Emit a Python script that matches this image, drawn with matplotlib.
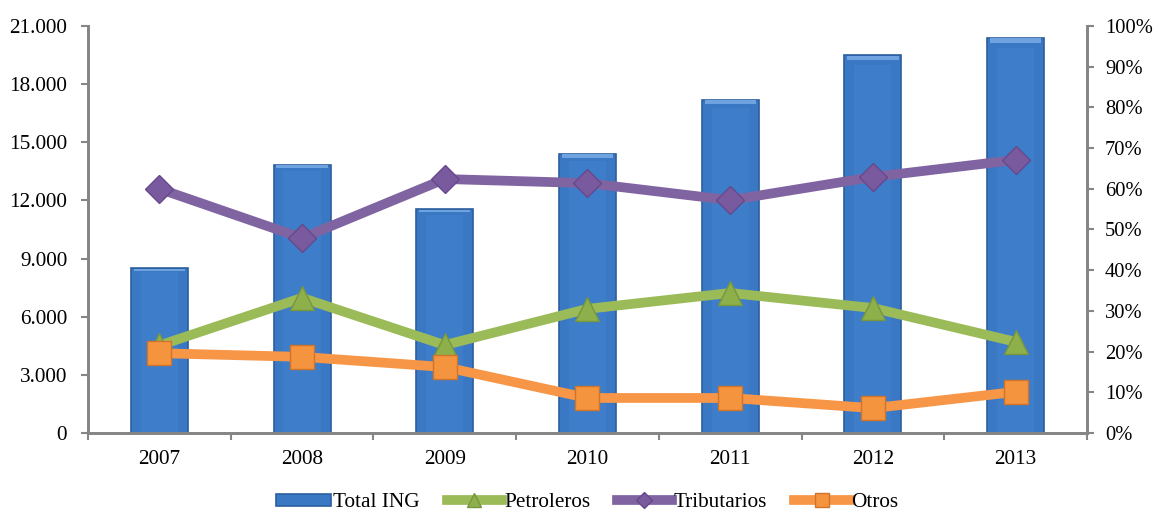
import matplotlib
matplotlib.use('Agg')
import matplotlib.pyplot as plt
import numpy as np
from matplotlib.ticker import FuncFormatter, MultipleLocator

# datos
anios = ['2007', '2008', '2009', '2010', '2011', '2012', '2013']
total_ing = [8500, 13850, 11550, 14400, 17200, 19500, 20400]
petroleros = [21.5, 33.2, 21.6, 30.5, 34.4, 30.7, 22.4]
tributarios = [60.0, 47.9, 62.4, 61.4, 57.2, 62.9, 67.1]
otros = [19.6, 18.7, 16.2, 8.6, 8.6, 6.1, 10.1]

plt.rcParams['font.family'] = ['Liberation Serif', 'DejaVu Serif']
gris = '#868686'
fs = 15.3

fig = plt.figure(figsize=(11.56, 5.13), dpi=100)
ax = fig.add_axes([0.0761, 0.156, 0.8642, 0.7933])
ax2 = ax.twinx()

x = np.arange(len(anios))
ax.bar(x, total_ing, width=0.4, color='#3A78C4', edgecolor='#2B5E9E',
       linewidth=1.2, label='Total ING', zorder=2)
# brillo central y bisel superior de las barras
ax.bar(x, [v * 0.975 for v in total_ing], width=0.26, color='#3D7DCA',
       linewidth=0, zorder=2.5)
ax.bar(x, [v * 0.012 for v in total_ing], bottom=[v * 0.986 for v in total_ing],
       width=0.36, color='#6FA3E0', linewidth=0, zorder=3)

ax2.plot(x, petroleros, color='#9BBB59', lw=7, marker='^', ms=17,
         mfc='#8DB04B', mec='#77963D', label='Petroleros', zorder=4)
ax2.plot(x, tributarios, color='#8064A2', lw=7, marker='D', ms=14,
         mfc='#7A5A9E', mec='#65498A', label='Tributarios', zorder=5)
ax2.plot(x, otros, color='#F79646', lw=7, marker='s', ms=17,
         mfc='#F5943E', mec='#D0742A', label='Otros', zorder=6)

ax.set_xlim(-0.5, 6.5)
ax.set_ylim(0, 21000)
ax2.set_ylim(0, 100)
ax.yaxis.set_major_locator(MultipleLocator(3000))
ax.yaxis.set_major_formatter(FuncFormatter(lambda v, p: f'{int(v):,}'.replace(',', '.')))
ax2.yaxis.set_major_locator(MultipleLocator(10))
ax2.yaxis.set_major_formatter(FuncFormatter(lambda v, p: f'{int(v)}%'))

ax.set_xticks(x)
ax.set_xticklabels(anios)
ax.set_xticks(np.arange(-0.5, 7, 1), minor=True)
ax.tick_params(axis='x', which='major', length=0, labelsize=fs, pad=12)
ax.tick_params(axis='x', which='minor', length=5, color=gris, width=1.5)
ax.tick_params(axis='y', length=5, color=gris, width=1.5, labelsize=fs, pad=10)
ax2.tick_params(axis='y', length=5, color=gris, width=1.5, labelsize=14.8, pad=8)

for a in (ax, ax2):
    a.spines['top'].set_visible(False)
    for s in ('left', 'right', 'bottom'):
        a.spines[s].set_color(gris)
        a.spines[s].set_linewidth(2)

h1, l1 = ax.get_legend_handles_labels()
h2, l2 = ax2.get_legend_handles_labels()
fig.legend([h1[0]] + h2, [l1[0]] + l2, loc='center', bbox_to_anchor=(0.508, 0.02),
           ncol=4, frameon=False, fontsize=15.3, handlelength=2.6, handleheight=0.5,
           handletextpad=0.1, columnspacing=1.25, markerscale=0.6, borderpad=0)

fig.savefig('out.png', dpi=100)
